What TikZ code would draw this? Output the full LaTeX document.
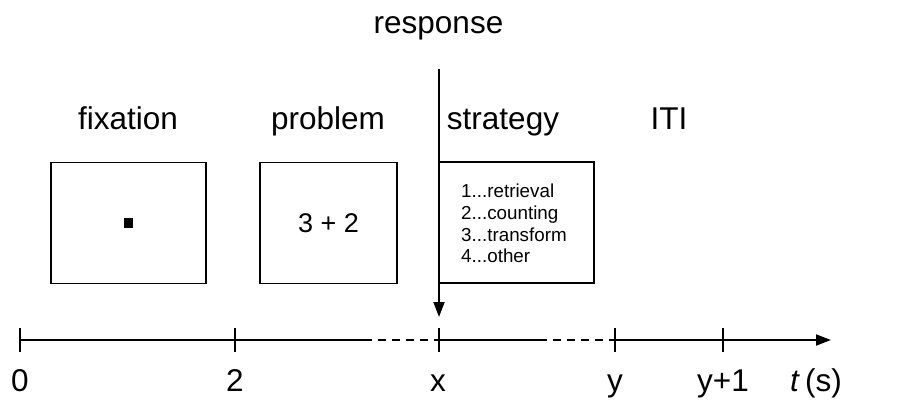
\documentclass[tikz,border=0pt]{standalone}
\usepackage{fontspec}
\setmainfont{Liberation Sans}
\usetikzlibrary{arrows.meta}
\begin{document}
\begin{tikzpicture}[x=1pt,y=-1pt,
  screen/.style={draw,line width=1.8pt,minimum width=155pt,minimum height=121pt,inner sep=0pt},
  head/.style={font=\fontsize{31.5}{36}\selectfont,inner sep=0pt,anchor=base},
  tlabel/.style={font=\fontsize{31.5}{36}\selectfont,inner sep=0pt,anchor=base},
  axis/.style={line width=1.8pt},
  tip/.style={-{Triangle[length=15pt,width=11pt]}},
  tickmark/.style={line width=1.3pt}]
\useasboundingbox (0,0) rectangle (906,416);
% headings
\node[head] (response) at (438.5,33) {response};
\node[head] (hfix) at (128,129) {fixation};
\node[head] (hprob) at (328,129) {problem};
\node[head] (hstrat) at (503,129) {strategy};
\node[head] (hiti) at (669,129) {ITI};
% screens
\node[screen] (fix) at (128.5,223) {};
\node[screen,minimum width=137pt] (prob) at (328.5,223) {\fontsize{27}{30}\selectfont 3 + 2};
\node[screen,minimum width=155pt] (strat) at (516.5,222.5) {};
\node[fill=black,minimum size=9.5pt,inner sep=0pt] (dot) at (fix.center) {};
\node[anchor=north west,inner sep=0pt,align=left,font=\fontsize{18.8}{21.7}\selectfont] (list) at (461,184)
  {1...retrieval\\2...counting\\3...transform\\4...other};
% response arrow
\coordinate (rtop) at (439,69);
\coordinate (rbot) at (439,317);
\draw[axis,tip] (rtop) -- (rbot);
% timeline
\coordinate (t0) at (20,340);
\coordinate (t2) at (235,340);
\coordinate (d1) at (364,340);
\coordinate (tx) at (439,340);
\coordinate (d2) at (539,340);
\coordinate (ty) at (615,340);
\coordinate (ty1) at (723,340);
\coordinate (tend) at (831,340);
\draw[axis] (t0) -- (d1);
\draw[axis,dash pattern=on 8pt off 6pt] (d1) -- (tx);
\draw[axis] (tx) -- (d2);
\draw[axis,dash pattern=on 8pt off 6pt] (d2) -- (ty);
\draw[axis,tip] (ty) -- (tend);
\foreach \c in {t0,t2,tx,ty,ty1}
  \draw[tickmark] ([yshift=-12pt]\c) -- ([yshift=12pt]\c);
% tick labels
\node[tlabel] (l0) at (20,391) {0};
\node[tlabel] (l2) at (235,391) {2};
\node[tlabel] (lx) at (438,391) {x};
\node[tlabel] (ly) at (615,391) {y};
\node[tlabel] (ly1) at (723,391) {y+1};
\node[tlabel] (lt) at (816,391) {\textit{t}\,(s)};
\end{tikzpicture}
\end{document}
